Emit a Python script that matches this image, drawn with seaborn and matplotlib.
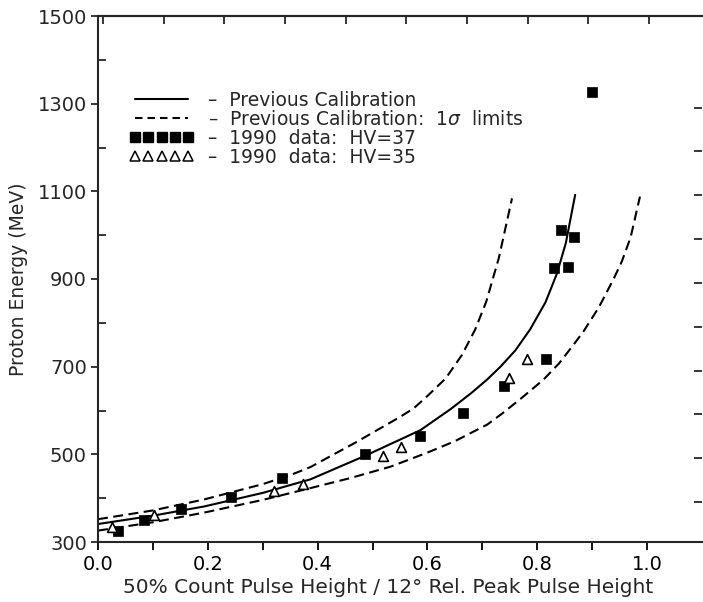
import numpy as np
import pandas as pd
import matplotlib
matplotlib.use("Agg")
import matplotlib.pyplot as plt
import seaborn as sns
from matplotlib.lines import Line2D

# ---- data ----
hv37_x = [0.037, 0.083, 0.151, 0.242, 0.336, 0.486, 0.587, 0.664, 0.739, 0.816, 0.831, 0.844, 0.856, 0.866, 0.899]
hv37_y = [325, 350, 375, 403, 447, 501, 542, 595, 656, 717, 924, 1012, 928, 995, 1327]

hv35_x = [0.025, 0.102, 0.321, 0.374, 0.519, 0.551, 0.749, 0.781]
hv35_y = [335, 362, 416, 432, 496, 516, 674, 717]

cal_x = [0.0, 0.1, 0.193, 0.3, 0.387, 0.487, 0.587, 0.642, 0.68, 0.709, 0.733, 0.76, 0.787, 0.815, 0.836, 0.852, 0.869]
cal_y = [341, 360, 381, 412, 443, 497, 555, 603, 640, 671, 700, 737, 785, 847, 913, 982, 1092]

up_x = [0.0, 0.1, 0.193, 0.3, 0.351, 0.387, 0.472, 0.551, 0.575, 0.599, 0.633, 0.663, 0.687, 0.707, 0.730, 0.754]
up_y = [352, 372, 397, 432, 453, 471, 529, 586, 605, 632, 673, 727, 785, 848, 948, 1084]

lo_x = [0.0, 0.1, 0.193, 0.3, 0.387, 0.46, 0.533, 0.6, 0.65, 0.709, 0.736, 0.769, 0.811, 0.84, 0.866, 0.884, 0.912, 0.939, 0.954, 0.97, 0.987]
lo_y = [326, 345, 367, 396, 423, 446, 472, 504, 530, 568, 593, 626, 670, 708, 750, 780, 835, 900, 940, 995, 1088]

labels = ["Previous Calibration", "Previous Calibration:  1$\\sigma$  limits",
          "1990  data:  HV=37", "1990  data:  HV=35"]

sns.set_style("ticks")
plt.rcParams["font.family"] = ["DejaVu Sans"]
plt.rcParams["mathtext.fontset"] = "dejavusans"

fig = plt.figure(figsize=(7.03, 6.02), dpi=100)
ax = fig.add_axes([98 / 703, 1 - 542 / 602, 604 / 703, 526 / 602])

lw = 1.5
dash = (0, (4.8, 2.6))
sns.lineplot(x=cal_x, y=cal_y, ax=ax, color="black", lw=lw, sort=False, estimator=None)
sns.lineplot(x=up_x, y=up_y, ax=ax, color="black", lw=lw, sort=False, estimator=None,
             linestyle=dash)
sns.lineplot(x=lo_x, y=lo_y, ax=ax, color="black", lw=lw, sort=False, estimator=None,
             linestyle=dash)
sns.scatterplot(x=hv37_x, y=hv37_y, ax=ax, marker="s", s=45, color="black",
                edgecolor="black", linewidth=0.5, zorder=5)
sns.scatterplot(x=hv35_x, y=hv35_y, ax=ax, marker="^", s=50, facecolor="white",
                edgecolor="black", linewidth=1.2, zorder=5)

ax.set_xlim(0, 1.1)
ax.set_ylim(300, 1500)
ax.set_xticks([0.0, 0.2, 0.4, 0.6, 0.8, 1.0])
ax.set_xticklabels(["0.0", "0.2", "0.4", "0.6", "0.8", "1.0"])
ax.set_xticks(np.arange(0.1, 1.1, 0.2), minor=True)
ax.set_yticks(np.arange(300, 1501, 200))
ax.set_yticks(np.arange(400, 1500, 200), minor=True)
ax.tick_params(axis="x", which="both", direction="out", length=6, width=1.3,
               labelsize=14, pad=3, colors="black")
ax.tick_params(axis="y", which="major", direction="out", length=5, width=1.3,
               labelsize=14, pad=3)
ax.tick_params(axis="y", which="minor", direction="in", length=6, width=1.3)
for s in ["left", "bottom", "top"]:
    ax.spines[s].set_linewidth(1.5)
ax.spines["right"].set_visible(False)

sec = ax.secondary_xaxis("top")
sec.set_xticks([0.009 + 0.1105 * k for k in range(10)])
sec.tick_params(direction="in", length=6, width=1.3, labeltop=False)
sec.spines["top"].set_linewidth(1.5)

secy = ax.secondary_yaxis("right")
secy.set_yticks([391 + 100 * k for k in range(10)])
secy.tick_params(direction="in", length=6, width=1.3, labelright=False)
secy.spines["right"].set_visible(False)

ax.set_ylabel("Proton Energy (MeV)", fontsize=13.5, labelpad=7)
ax.set_xlabel("50% Count Pulse Height / 12° Rel. Peak Pulse Height", fontsize=14.5)
ax.xaxis.set_label_coords((388 - 98) / 604, -(578 - 542) / 526)

handles = [
    Line2D([], [], color="black", lw=lw),
    Line2D([], [], color="black", lw=lw, linestyle=(0, (3.6, 2.4))),
    Line2D([], [], color="black", marker="s", ms=6.5, linestyle="none"),
    Line2D([], [], color="black", marker="^", ms=6.5, mfc="white", mew=1.1, linestyle="none"),
]
leg = ax.legend(handles, ["–  " + l for l in labels], loc="upper left",
                bbox_to_anchor=(0.04, 0.872), frameon=False, fontsize=13.5,
                handlelength=3.4, handletextpad=0.8, labelspacing=0.0,
                numpoints=5, borderaxespad=0)

fig.savefig("out.png", dpi=100)
